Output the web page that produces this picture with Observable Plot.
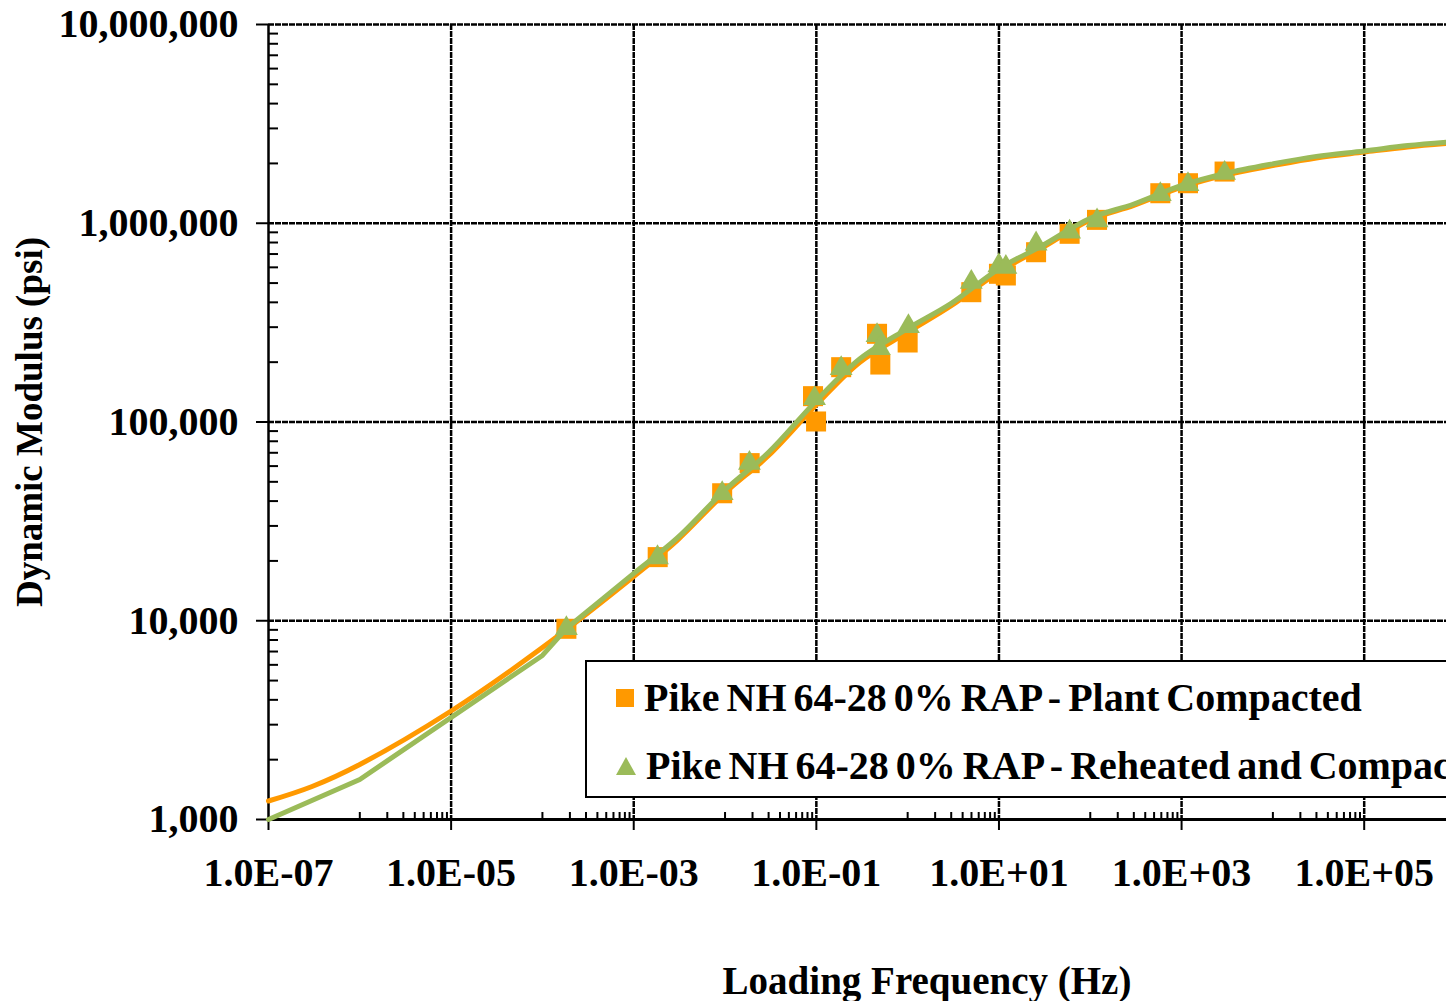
<!DOCTYPE html>
<html>
<head>
<meta charset="utf-8">
<script src="https://cdn.jsdelivr.net/npm/d3@7"></script>
<script src="https://cdn.jsdelivr.net/npm/@observablehq/plot@0.6"></script>
<style>
  html, body { margin: 0; padding: 0; background: #fff; overflow: hidden; width: 1446px; height: 1001px; }
  #wrap { position: relative; width: 1446px; height: 1001px; overflow: hidden; }
  #legend { position: absolute; left: 585px; top: 660px; width: 1000px; height: 134px; border: 2px solid #000; background: #fff;
    font-family: "Liberation Serif", "Times New Roman", serif; font-weight: bold; font-size: 40px; word-spacing: -3px; color: #000; }
  .item { position: absolute; left: 28px; display: flex; align-items: center; white-space: nowrap; }
  .item svg { margin-right: 9px; }
</style>
</head>
<body>
<div id="wrap"></div>
<script>
// ---- data ----
const seriesNames = ["Pike NH 64-28 0% RAP - Plant Compacted", "Pike NH 64-28 0% RAP - Reheated and Compacted"];
const seriesColors = ["#ff9900", "#9bbb59"];

// measured points: Plant Compacted (orange squares)
const plantFreq = [1.83e-4, 1.83e-3, 9.3e-3, 0.0186, 0.092, 0.0993, 0.187, 0.462, 0.502, 1.0, 4.98, 10.0, 11.9, 25.5, 59.4, 118.6, 585, 1175, 2958];
const plantMod  = [9110, 20900, 43800, 62100, 134900, 100600, 188700, 277800, 194600, 251200, 449900, 556800, 546000, 714900, 885000, 1040000, 1416000, 1590000, 1820000];

// measured points: Reheated and Compacted (green triangles)
const rehFreq = [1.83e-4, 1.82e-3, 9.3e-3, 0.0185, 0.0955, 0.187, 0.462, 0.49, 1.02, 4.98, 9.97, 11.9, 25.5, 59.4, 118.6, 585, 1175, 2958];
const rehMod  = [9140, 20800, 43700, 62000, 131300, 185900, 272400, 234300, 302600, 505000, 612800, 600800, 788000, 905000, 1030000, 1396000, 1567000, 1786000];

// master curves
const plantCurveFreq = [1e-7, 3e-7, 1e-6, 1e-5, 1e-4, 1e-3, 3e-3, 1e-2, 3e-2, 0.1, 0.3, 1, 3, 10, 30, 100, 300, 1e3, 3e3, 1e4, 3e4, 1e5, 3e5, 1e6];
const plantCurveMod  = [1239, 1466, 1892, 3515, 7330, 16700, 25400, 44000, 67800, 122000, 200000, 283000, 385000, 570000, 755000, 1040000, 1230000, 1520000, 1750000, 1950000, 2130000, 2280000, 2420000, 2540000];
// reheated curve: straight low-frequency segments, then smooth
const rehLowFreq = [1e-7, 1e-6, 1e-4, 1.83e-4];
const rehLowMod  = [1000, 1590, 6690, 9140];
const rehHighFreq = [1.83e-4, 1e-3, 3e-3, 1e-2, 3e-2, 0.1, 0.3, 1, 3, 10, 30, 100, 300, 1e3, 3e3, 1e4, 3e4, 1e5, 3e5, 1e6];
const rehHighMod  = [9140, 17300, 26100, 45500, 70400, 128000, 208000, 295000, 395000, 590000, 773000, 1060000, 1250000, 1550000, 1780000, 1990000, 2170000, 2310000, 2460000, 2580000];

// axes
const xTicks = [1e-7, 1e-5, 1e-3, 1e-1, 1e1, 1e3, 1e5];
const yTicks = [1e3, 1e4, 1e5, 1e6, 1e7];
const xDomain = [1e-7, 1e6];
const yDomain = [1e3, 1e7];
const xMinorExps = [-6, -4, -2, 0, 2, 4];
const yMinorExps = [3, 4, 5, 6];
const xTitle = "Loading Frequency (Hz)";
const yTitle = "Dynamic Modulus (psi)";

// ---- build ----
const xMinor = xMinorExps.flatMap(e => d3.range(1, 10).map(k => k * Math.pow(10, e)));
const yMinor = yMinorExps.flatMap(e => d3.range(2, 10).map(k => k * Math.pow(10, e)));
const fmtX = v => { const e = Math.round(Math.log10(v)); return "1.0E" + (e < 0 ? "-" : "+") + String(Math.abs(e)).padStart(2, "0"); };
const fmtY = d3.format(",");

const zip = (a, b) => a.map((f, i) => ({f, m: b[i]}));
const plant = zip(plantFreq, plantMod);
const reh = zip(rehFreq, rehMod);
const plantCurve = zip(plantCurveFreq, plantCurveMod);
const rehLow = zip(rehLowFreq, rehLowMod);
const rehHigh = zip(rehHighFreq, rehHighMod);

const W = 1460, H = 1001, mL = 268, mR = 5, mT = 24, mB = 182;
const frameH = H - mT - mB, frameW = W - mL - mR;
const font = "Liberation Serif";
const gridStyle = {stroke: "#000", strokeOpacity: 1, strokeWidth: 2.5, strokeDasharray: "6,1"};

const chart = Plot.plot({
  width: W, height: H,
  marginLeft: mL, marginRight: mR, marginTop: mT, marginBottom: mB,
  style: {fontFamily: font, fontWeight: "bold", fontSize: "40px", color: "#000", background: "transparent"},
  x: {type: "log", domain: xDomain, axis: null},
  y: {type: "log", domain: yDomain, axis: null},
  marks: [
    Plot.gridX(xTicks.slice(1), gridStyle),
    Plot.gridY(yTicks.slice(1), gridStyle),
    // minor ticks (inside)
    Plot.tickX(xMinor, {x: d => d, stroke: "#000", strokeWidth: 2, insetTop: frameH - 7}),
    Plot.tickY(yMinor, {y: d => d, stroke: "#000", strokeWidth: 2, insetRight: frameW - 10}),
    // axes
    Plot.axisX(xTicks, {tickSize: 11, tickPadding: 27, tickFormat: fmtX, strokeWidth: 2, fontSize: 40, fontWeight: "bold", label: null}),
    Plot.axisY(yTicks, {tickSize: 12, tickPadding: 18, tickFormat: fmtY, strokeWidth: 2, fontSize: 40, fontWeight: "bold", label: null}),
    Plot.ruleY([yDomain[0]], {stroke: "#000", strokeWidth: 3}),
    Plot.ruleX([xDomain[0]], {stroke: "#000", strokeWidth: 2.5}),
    // series
    Plot.line(plantCurve, {x: "f", y: "m", stroke: seriesColors[0], strokeWidth: 5, curve: "catmull-rom"}),
    Plot.dot(plant, {x: "f", y: "m", symbol: "square", r: 11.3, fill: seriesColors[0], stroke: "none"}),
    Plot.line(rehLow, {x: "f", y: "m", stroke: seriesColors[1], strokeWidth: 5, curve: "linear", strokeLinejoin: "round"}),
    Plot.line(rehHigh, {x: "f", y: "m", stroke: seriesColors[1], strokeWidth: 5, curve: "catmull-rom"}),
    Plot.dot(reh, {x: "f", y: "m", symbol: "triangle", r: 8.5, fill: seriesColors[1], stroke: "none"}),
    // titles
    Plot.text([yTitle], {frameAnchor: "left", textAnchor: "middle", rotate: -90, dx: -238, fontSize: 37, fontWeight: "bold", lineAnchor: "middle", fill: "#000"}),
    Plot.text([xTitle], {frameAnchor: "bottom", textAnchor: "middle", dx: 65, dy: 162, fontSize: 39, fontWeight: "bold", lineAnchor: "middle", fill: "#000"})
  ]
});
chart.style.position = "absolute";
chart.style.left = "0px";
chart.style.top = "0px";
chart.style.maxWidth = "none";
chart.style.width = W + "px";
chart.style.height = H + "px";
const wrap = document.getElementById("wrap");
wrap.appendChild(chart);

// legend
const legend = document.createElement("div");
legend.id = "legend";
const sq = '<svg width="20" height="20"><rect x="1" y="1" width="18" height="18" fill="' + seriesColors[0] + '"/></svg>';
const tri = '<svg width="22" height="20"><polygon points="11,1 21,19 1,19" fill="' + seriesColors[1] + '"/></svg>';
legend.innerHTML =
  '<div class="item" style="top:12px">' + sq + '<span>' + seriesNames[0] + '</span></div>' +
  '<div class="item" style="top:80px">' + tri + '<span>' + seriesNames[1] + '</span></div>';
wrap.appendChild(legend);
</script>
</body>
</html>
